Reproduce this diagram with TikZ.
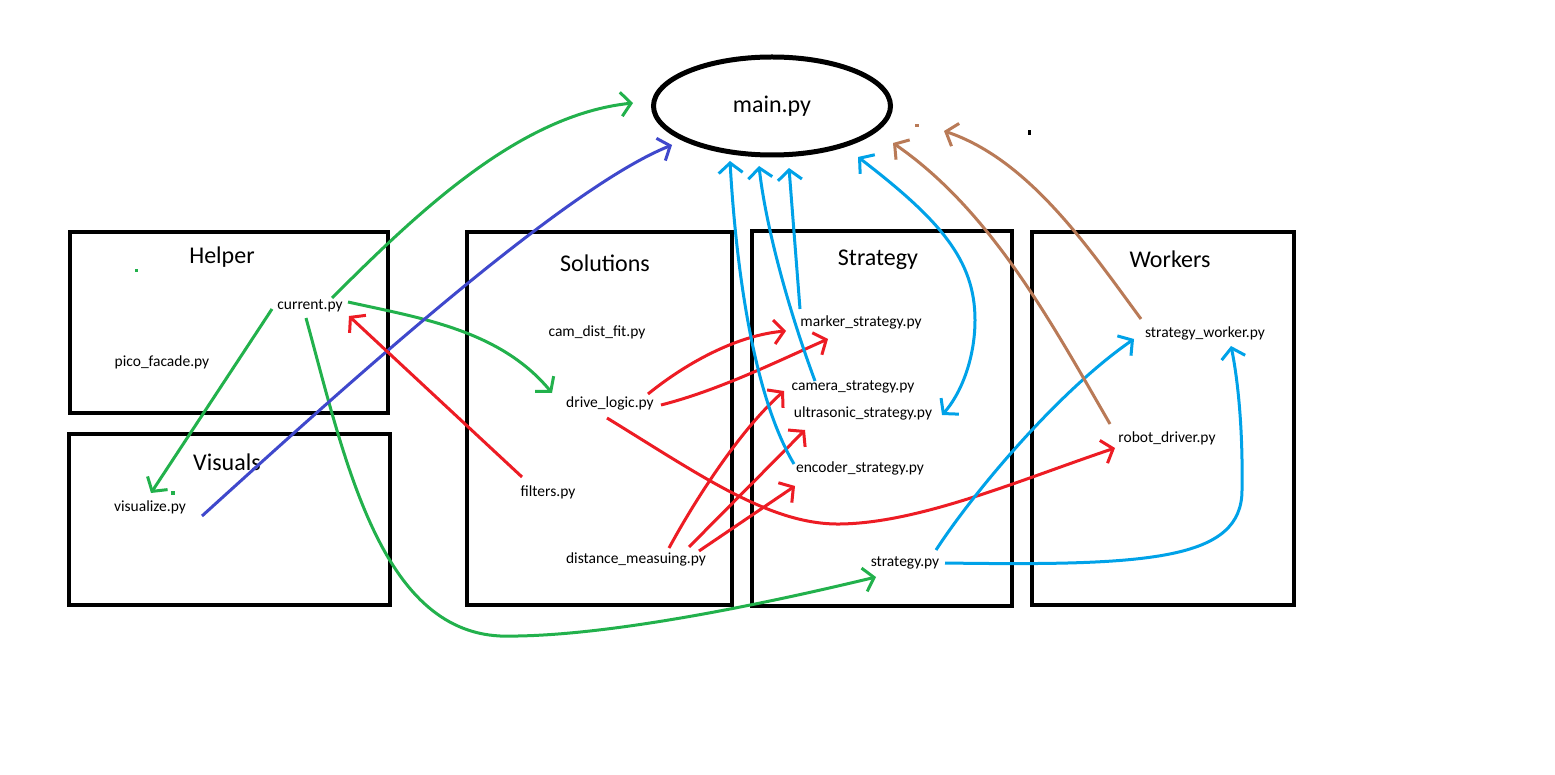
\documentclass[tikz,border=0pt]{standalone}
\usepackage{fontspec}
\setmainfont{Carlito}
\usetikzlibrary{calc,shapes.geometric,arrows.meta}
\definecolor{pgreen}{HTML}{22B14C}
\definecolor{pred}{HTML}{ED1C24}
\definecolor{pcyan}{HTML}{00A2E8}
\definecolor{pblue}{HTML}{3F48CC}
\definecolor{pbrown}{HTML}{B97A57}
\tikzset{
  grp/.style={draw,line width=4.5pt,inner sep=0pt},
  ttl/.style={font=\fontsize{24}{28}\selectfont,inner sep=0pt},
  fname/.style={font=\fontsize{15.5}{18}\selectfont,inner sep=0pt},
  imp/.style={-{Straight Barb[length=10pt,width=24pt]},line width=3pt,#1},
  imp2/.style={{Straight Barb[length=10pt,width=24pt]}-{Straight Barb[length=10pt,width=24pt]},line width=3pt,#1},
}

\begin{document}
\begin{tikzpicture}[x=1pt,y=-1pt]
\path[fill=white] (0,0) rectangle (1555,775);
\useasboundingbox (0,0) rectangle (1555,775);
% main
\node[ellipse,draw,line width=5pt,minimum width=237,minimum height=98,inner sep=0pt,ttl] (main) at (772,106) {main.py};
% groups
\node[grp,minimum width=318,minimum height=181] (helper)      at (229,322.5) {};
\node[grp,minimum width=321,minimum height=171] (visuals)     at (229.5,519.5) {};
\node[grp,minimum width=265,minimum height=373] (solutions)   at (599.5,418.5) {};
\node[grp,minimum width=260,minimum height=375] (strategybox) at (882,418.5) {};
\node[grp,minimum width=262,minimum height=373] (workers)     at (1163,418.5) {};
\node[ttl] (helperttl)    at (222,257)  {Helper};
\node[ttl] (visualsttl)   at (227,462)  {Visuals};
\node[ttl] (solutionsttl) at (605,263)  {Solutions};
\node[ttl] (strategyttl)  at (878,260)  {Strategy};
\node[ttl] (workersttl)   at (1170,259) {Workers};
% files
\node[fname] (current)   at (310,306)  {current.py};
\node[fname] (pico)      at (162,362)  {pico\_facade.py};
\node[fname] (visualize) at (150,507)  {visualize.py};
\node[fname] (camfit)    at (597,332)  {cam\_dist\_fit.py};
\node[fname] (drive)     at (610,403)  {drive\_logic.py};
\node[fname] (filters)   at (548,492)  {filters.py};
\node[fname] (distance)  at (636,559)  {distance\_measuing.py};
\node[fname] (marker)    at (861,322)  {marker\_strategy.py};
\node[fname] (camera)    at (853,387)  {camera\_strategy.py};
\node[fname] (ultra)     at (863,413)  {ultrasonic\_strategy.py};
\node[fname] (encoder)   at (860,468)  {encoder\_strategy.py};
\node[fname] (strategy)  at (905,563)  {strategy.py};
\node[fname] (worker)    at (1205,333) {strategy\_worker.py};
\node[fname] (robot)     at (1167,438) {robot\_driver.py};
% stray dots
\fill[pgreen] (134.5,269.5) rectangle +(3,3);
\fill[pgreen] (171,491) rectangle +(4,4);
\fill[pbrown] (915,124.5) rectangle +(4,3);
\fill[black] (1027.5,130.5) rectangle +(3,5);
% green
\draw[imp=pgreen] ($(current)+(22,-8)$) .. controls (420,210) and (520,115) .. ($(main)+(-139,-3)$);
\draw[imp=pgreen] ($(current)+(38,-4)$) .. controls (420,318) and (500,330) .. ($(drive)+(-58,-10)$);
\draw[imp=pgreen] ($(current)+(-38,3)$) -- ($(visualize)+(1,-14)$);
\draw[imp=pgreen] ($(current)+(-4,12)$) .. controls (345,460) and (380,630) .. (500,636)
  .. controls (600,638) and (760,605) .. ($(strategy)+(-29,14)$);
% blue
\draw[imp=pblue] ($(visualize)+(52,9)$) .. controls (330,400) and (560,190) .. ($(main)+(-100,39)$);
% red
\draw[imp=pred] ($(filters)+(-26,-15)$) -- ($(current)+(39,10)$);
\draw[imp=pred] ($(drive)+(38,-9)$) .. controls (690,360) and (740,335) .. ($(marker)+(-75,9)$);
\draw[imp=pred] ($(drive)+(51,2)$) .. controls (720,390) and (780,360) .. ($(marker)+(-33,17)$);
\draw[imp=pred] ($(drive)+(-3,15)$) .. controls (700,475) and (770,525) .. (840,524)
  .. controls (920,523) and (1020,480) .. ($(robot)+(-52,10)$);
\draw[imp=pred] ($(distance)+(33,-11)$) .. controls (695,500) and (740,430) .. ($(camera)+(-69,4)$);
\foreach \dx/\dy/\n/\ex/\ey in {53/-12/ultra/-58/17, 63/-8/encoder/-65/18}
  \draw[imp=pred] ($(distance)+(\dx,\dy)$) -- ($(\n)+(\ex,\ey)$);
% cyan
\draw[imp=pcyan] ($(marker)+(-61,-13)$) -- ($(main)+(17,62)$);
\draw[imp=pcyan] ($(camera)+(-38,-6)$) .. controls (785,300) and (765,220) .. ($(main)+(-13,60)$);
\draw[imp=pcyan] ($(encoder)+(-66,-4)$) .. controls (750,390) and (735,250) .. ($(main)+(-42,55)$);
\draw[imp2=pcyan] ($(main)+(86,51)$) .. controls (940,220) and (975,260) .. (975,320)
  .. controls (975,360) and (960,395) .. ($(ultra)+(79,2)$);
\draw[imp=pcyan] ($(strategy)+(31,-13)$) .. controls (975,490) and (1060,390) .. ($(worker)+(-71,6)$);
\draw[imp=pcyan] ($(strategy)+(40,0)$) .. controls (1150,566) and (1242,560) .. (1242,490)
  .. controls (1243,430) and (1238,380) .. ($(worker)+(26,13)$);
% brown
\draw[imp=pbrown] ($(robot)+(-57,-14)$) .. controls (1050,320) and (990,210) .. ($(main)+(121,37)$);
\draw[imp=pbrown] ($(worker)+(-64,-14)$) .. controls (1090,250) and (1030,160) .. ($(main)+(172,25)$);
\end{tikzpicture}
\end{document}
